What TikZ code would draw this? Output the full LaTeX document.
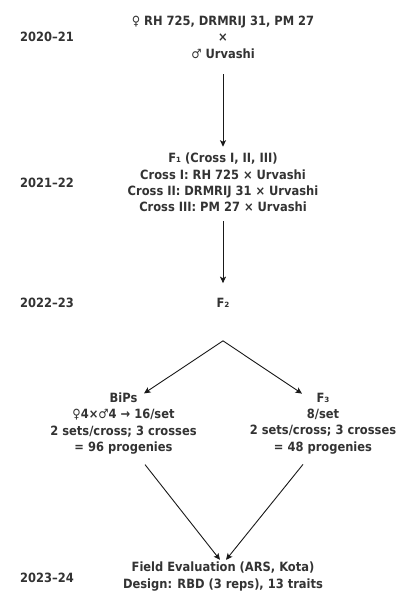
\documentclass[tikz,border=0pt]{standalone}
\usepackage{fontspec}
\setmainfont{DejaVu Sans Condensed}
\usetikzlibrary{arrows.meta, positioning, calc}
\definecolor{inkgray}{HTML}{333333}
\tikzset{
  stage/.style={font=\fontsize{12.8}{16.5}\selectfont\bfseries, text=inkgray, align=center, inner sep=0pt},
  yeartext/.style={stage},
  flow/.style={-{Stealth[length=6.5bp,width=6bp,inset=1.5bp]}, line width=0.9bp, black!90}
}

\begin{document}
\begin{tikzpicture}[x=1bp, y=-1bp]
  \useasboundingbox (0,0) rectangle (399,594);
  % season labels down the left margin
  \node[yeartext] (y1) at (47,37) {2020–21};
  \node[yeartext] (y2) at (47,183) {2021–22};
  \node[yeartext] (y3) at (47,303) {2022–23};
  \node[yeartext] (y4) at (47,578) {2023–24};
  % stages of the scheme
  \node[stage] (parents) at (223,37) {♀ RH 725, DRMRIJ 31, PM 27\\×\\♂ Urvashi};
  \node[stage] (fone) at (223,182.5) {F₁ (Cross I, II, III)\\Cross I: RH 725 × Urvashi\\Cross II: DRMRIJ 31 × Urvashi\\Cross III: PM 27 × Urvashi};
  \node[stage] (ftwo) at (223,303) {F₂};
  \node[stage] (bips) at (123.5,423.5) {BiPs\\♀4×♂4 → 16/set\\2 sets/cross; 3 crosses\\= 96 progenies};
  \node[stage] (fthree) at (323,423.5) {F₃\\8/set\\2 sets/cross; 3 crosses\\= 48 progenies};
  \node[stage] (field) at (223,576.5) {Field Evaluation (ARS, Kota)\\Design: RBD (3 reps), 13 traits};
  % fork point below F2
  \coordinate (fork) at ($(ftwo.south)+(0,33)$);
  \draw[flow, shorten <=16bp, shorten >=6bp] (parents.south) -- (fone.north);
  \draw[flow, shorten <=9bp, shorten >=15bp] (fone.south) -- (ftwo.north);
  \draw[flow] (fork) -- ($(bips.north)+(20.5,1)$);
  \draw[flow] (fork) -- ($(fthree.north)+(-21,1)$);
  % both progeny sets go to the field trial
  \draw[flow] ($(bips.south)+(21.5,10)$) -- ($(field.north)+(-3,-2)$);
  \draw[flow] ($(fthree.south)+(-20,10)$) -- ($(field.north)+(3,-2)$);
\end{tikzpicture}
\end{document}
